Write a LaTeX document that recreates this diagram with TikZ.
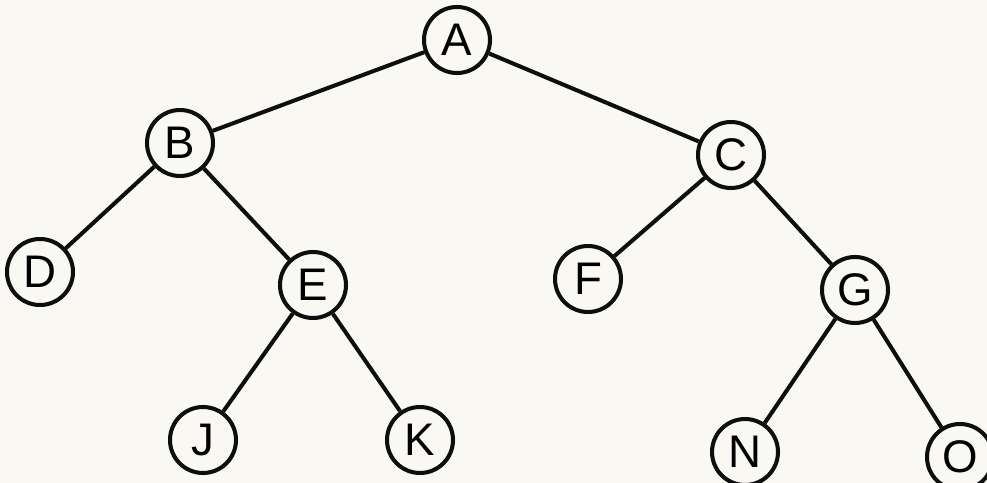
\documentclass[tikz,border=0pt]{standalone}
\usepackage{fontspec}
\setmainfont{Liberation Sans}
\definecolor{paper}{HTML}{FAF8F2}
\definecolor{ink}{HTML}{0E0E0E}
\begin{document}
\begin{tikzpicture}[x=0.02cm,y=-0.02cm,
  vert/.style={circle,draw=ink,line width=2.3pt,fill=paper,minimum size=1.32cm,inner sep=0pt,
    font=\fontsize{26}{26}\selectfont},
  branch/.style={draw=ink,line width=2.3pt}]
  \fill[paper] (0,0) rectangle (987,483);
  \useasboundingbox (0,0) rectangle (987,483);
  % vertices
  \node[vert] (A) at (457,40) {A};
  \node[vert] (B) at (180,143) {B};
  \node[vert] (C) at (731,155) {C};
  \node[vert] (D) at (40,272) {D};
  \node[vert] (E) at (313,285) {E};
  \node[vert] (F) at (588,279) {F};
  \node[vert] (G) at (855,290) {G};
  \node[vert] (J) at (203,440) {J};
  \node[vert] (K) at (420,440) {K};
  \node[vert] (N) at (745,452) {N};
  \node[vert] (O) at (960,457) {O};
  % edges
  \draw[branch] (A) -- (B);
  \draw[branch] (A) -- (C);
  \draw[branch] (B) -- (D);
  \draw[branch] (B) -- (E);
  \draw[branch] (E) -- (J);
  \draw[branch] (E) -- (K);
  \draw[branch] (C) -- (F);
  \draw[branch] (C) -- (G);
  \draw[branch] (G) -- (N);
  \draw[branch] (G) -- (O);
\end{tikzpicture}
\end{document}
